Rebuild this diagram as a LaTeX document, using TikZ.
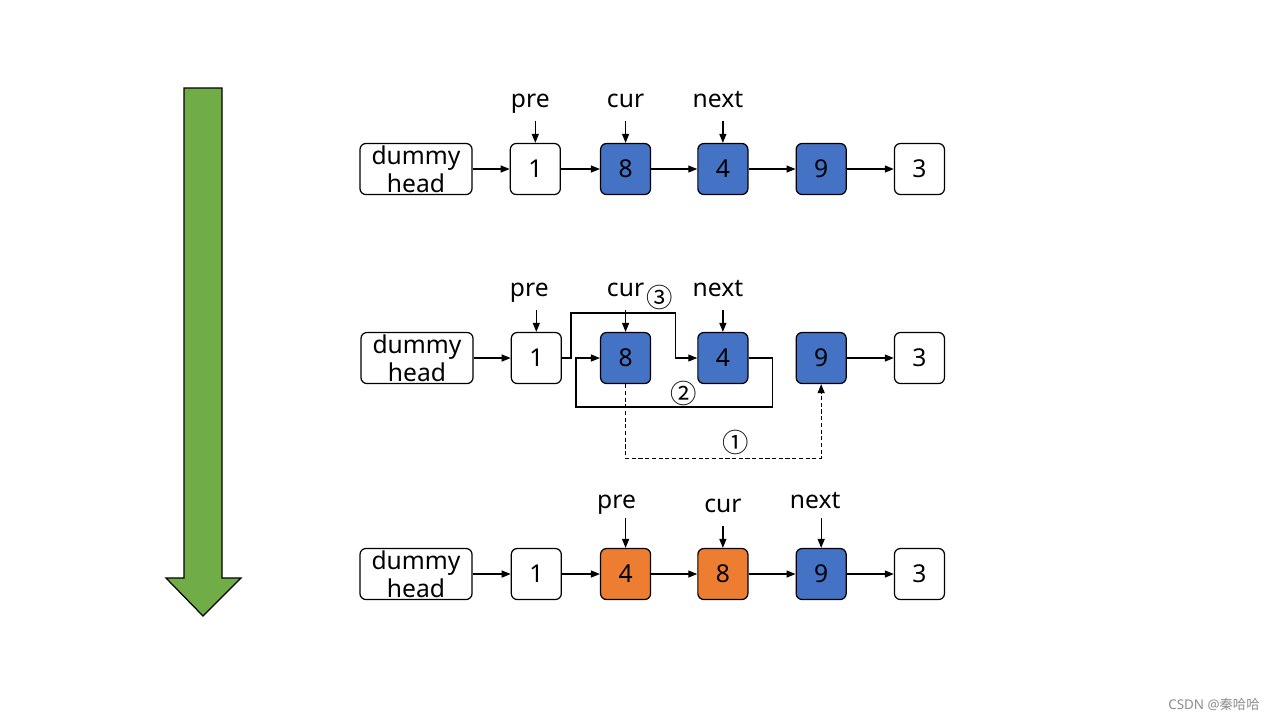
\documentclass[tikz,border=0pt]{standalone}
\usepackage{xcolor}
\usepackage{fontspec}
\setmainfont{Noto Sans}
\newfontfamily\cjkfont{Noto Sans CJK SC}
\usepackage{tikz}
\usetikzlibrary{positioning,calc,arrows.meta}

\definecolor{nodeblue}{HTML}{4472C4}
\definecolor{nodeorange}{HTML}{ED7D31}
\definecolor{arrowgreen}{HTML}{70AD47}

\begin{document}
\begin{tikzpicture}[
    x=0.01cm, y=-0.01cm,
    box/.style={rectangle, rounded corners=0.06cm, draw=black, line width=0.35pt, minimum width=0.5cm, minimum height=0.51cm, inner sep=0pt, font=\fontsize{7}{8}\selectfont},
    dummy/.style={box, minimum width=1.12cm, align=center},
    blue/.style={box, fill=nodeblue},
    orange/.style={box, fill=nodeorange},
    ptr/.style={inner sep=1pt, text height=0.75em, text depth=0.25em, font=\fontsize{7}{8}\selectfont},
    step num/.style={font=\cjkfont\fontsize{7.5}{8}\selectfont, inner sep=0pt},
    link/.style={-{Triangle[length=0.9mm,width=0.7mm]}, line width=0.35pt},
    every node/.style={align=center}
]
\useasboundingbox (0,0) rectangle (1280,720);

% Big arrow on the left
\draw[fill=arrowgreen, line width=0.35pt] (184,88) -- (222,88) -- (222,578) -- (241,578) -- (203,616) -- (166,578) -- (184,578) -- cycle;

% Row 1
\node[dummy] (head1) at (416,169) {dummy\\head};
\node[box] (one1) [right=0.37cm of head1] {1};
\node[blue] (eight1) [right=0.39cm of one1] {8};
\node[blue] (four1) [right=0.46cm of eight1] {4};
\node[blue] (nine1) [right=0.47cm of four1] {9};
\node[box] (three1) [right=0.47cm of nine1] {3};
\node[ptr] (pre1) [above=0.22cm of one1, xshift=-0.05cm] {pre};
\node[ptr] (cur1) [above=0.22cm of eight1] {cur};
\node[ptr] (next1) [above=0.22cm of four1, xshift=-0.05cm] {next};

\draw[link] (head1) -- (one1);
\draw[link] (one1) -- (eight1);
\draw[link] (eight1) -- (four1);
\draw[link] (four1) -- (nine1);
\draw[link] (nine1) -- (three1);
\draw[link] (pre1.south -| one1.north) -- (one1.north);
\draw[link] (cur1.south -| eight1.north) -- (eight1.north);
\draw[link] (next1.south -| four1.north) -- (four1.north);

% Row 2
\node[dummy] (head2) at (417,358) {dummy\\head};
\node[box] (one2) [right=0.37cm of head2] {1};
\node[blue] (eight2) [right=0.38cm of one2] {8};
\node[blue] (four2) [right=0.46cm of eight2] {4};
\node[blue] (nine2) [right=0.47cm of four2] {9};
\node[box] (three2) [right=0.47cm of nine2] {3};
\node[ptr] (pre2) [above=0.22cm of one2, xshift=-0.07cm] {pre};
\node[ptr] (cur2) [above=0.22cm of eight2] {cur};
\node[ptr] (next2) [above=0.22cm of four2, xshift=-0.05cm] {next};

\draw[link] (head2) -- (one2);
\draw[link] (nine2) -- (three2);
\draw[link] (pre2.south -| one2.north) -- (one2.north);
\draw[link] (cur2.south -| eight2.north) -- (eight2.north);
\draw[link] (next2.south -| four2.north) -- (four2.north);
% step 3: pre -> next
\draw[link] (one2.east) -- ++(9,0) -- ++(0,-45) -| ($(four2.west)+(-22,0)$) -- (four2.west);
% step 2: next -> cur
\draw[link] (four2.east) -- ++(24,0) -- ++(0,49) -| ($(eight2.west)+(-24,0)$) -- (eight2.west);
% step 1: cur -> next.next
\draw[link, dash pattern=on 1.2pt off 0.7pt] (eight2.south) -- ++(0,74) -| (nine2.south);
\node[step num] (s3) at (660,297) {③};
\node[step num] (s2) at (684,393) {②};
\node[step num] (s1) at (736,442) {①};

% Row 3
\node[dummy] (head3) at (416,574) {dummy\\head};
\node[box] (one3) [right=0.38cm of head3] {1};
\node[orange] (four3) [right=0.38cm of one3] {4};
\node[orange] (eight3) [right=0.46cm of four3] {8};
\node[blue] (nine3) [right=0.47cm of eight3] {9};
\node[box] (three3) [right=0.47cm of nine3] {3};
\node[ptr] (pre3) [above=0.22cm of four3, yshift=0.04cm, xshift=-0.09cm] {pre};
\node[ptr] (cur3) [above=0.22cm of eight3] {cur};
\node[ptr] (next3) [above=0.22cm of nine3, yshift=0.04cm, xshift=-0.06cm] {next};

\draw[link] (head3) -- (one3);
\draw[link] (one3) -- (four3);
\draw[link] (four3) -- (eight3);
\draw[link] (eight3) -- (nine3);
\draw[link] (nine3) -- (three3);
\draw[link] (pre3.south -| four3.north) ++(0,-4) -- (four3.north);
\draw[link] (cur3.south -| eight3.north) -- (eight3.north);
\draw[link] (next3.south -| nine3.north) ++(0,-4) -- (nine3.north);

% Watermark
\node[text=black!45, font=\fontsize{3.8}{4}\selectfont, inner sep=0pt] (mark) at (1214,704) {CSDN @{\cjkfont 秦哈哈}};

\end{tikzpicture}
\end{document}
